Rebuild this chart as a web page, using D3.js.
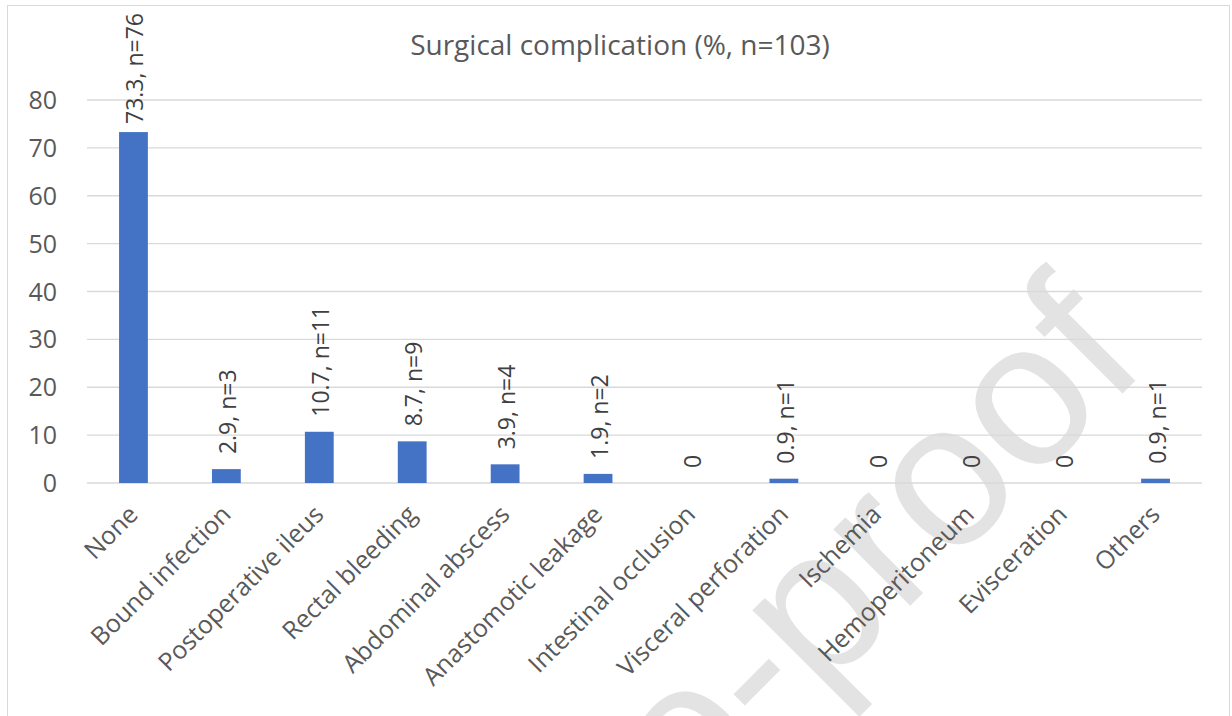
<!DOCTYPE html>
<html>
<head>
<meta charset="utf-8">
<script src="https://cdn.jsdelivr.net/npm/d3@7"></script>
<style>
  html, body { margin: 0; padding: 0; background: #fff; }
  svg { display: block; font-family: "Open Sans", "Noto Sans", sans-serif; }
</style>
</head>
<body>
<svg id="chart" width="1232" height="716"></svg>
<script>
const categories = [
  "None", "Bound infection", "Postoperative ileus", "Rectal bleeding",
  "Abdominal abscess", "Anastomotic leakage", "Intestinal occlusion",
  "Visceral perforation", "Ischemia", "Hemoperitoneum", "Evisceration", "Others"
];
const percents = [73.3, 2.9, 10.7, 8.7, 3.9, 1.9, 0, 0.9, 0, 0, 0, 0.9];
const counts = [76, 3, 11, 9, 4, 2, 0, 1, 0, 0, 0, 1];
const yTicks = [0, 10, 20, 30, 40, 50, 60, 70, 80];
const title = "Surgical complication (%, n=103)";
const watermark = "Journal Pre-proof";

const svg = d3.select("#chart");
const plot = { left: 87, right: 1202, top: 100, bottom: 483 };

// watermark, sits behind the chart
svg.append("text")
  .attr("transform", "translate(1150,366) rotate(-45)")
  .attr("text-anchor", "end")
  .attr("font-family", "'Liberation Sans', Arial, sans-serif")
  .attr("font-size", 205)
  .attr("fill", "#e3e3e3")
  .text(watermark);

// chart border (bottom edge runs off the picture)
svg.append("rect")
  .attr("x", 7.5).attr("y", 5.5)
  .attr("width", 1222).attr("height", 740)
  .attr("fill", "none")
  .attr("stroke", "#d9d9d9")
  .attr("stroke-width", 1);

const x = d3.scaleBand()
  .domain(categories)
  .range([plot.left, plot.right])
  .paddingInner(0.69)
  .paddingOuter(0.345);

const y = d3.scaleLinear()
  .domain([0, 80])
  .range([plot.bottom, plot.top]);

const cx = d => x(d) + x.bandwidth() / 2;

// gridlines
svg.append("g")
  .selectAll("line")
  .data(yTicks)
  .join("line")
  .attr("x1", plot.left).attr("x2", plot.right)
  .attr("y1", d => y(d)).attr("y2", d => y(d))
  .attr("stroke", "#d9d9d9")
  .attr("stroke-width", 1.3);

// y tick labels
svg.append("g")
  .selectAll("text")
  .data(yTicks)
  .join("text")
  .attr("x", 57)
  .attr("y", d => y(d))
  .attr("dy", "0.36em")
  .attr("text-anchor", "end")
  .attr("font-size", 25)
  .attr("fill", "#595959")
  .text(d => d);

// bars
svg.append("g")
  .selectAll("rect")
  .data(categories)
  .join("rect")
  .attr("x", d => x(d))
  .attr("width", x.bandwidth())
  .attr("y", (d, i) => y(percents[i]))
  .attr("height", (d, i) => y(0) - y(percents[i]))
  .attr("fill", "#4472C4");

// data labels, pushed down when they would run past the chart top
const labels = svg.append("g")
  .selectAll("text")
  .data(categories)
  .join("text")
  .attr("text-anchor", "start")
  .attr("font-size", 23)
  .attr("fill", "#404040")
  .text((d, i) => percents[i] === 0 ? "0" : `${percents[i]}, n=${counts[i]}`);

labels.attr("transform", function (d, i) {
  const len = this.getComputedTextLength();
  let start = y(percents[i]) - 15;
  if (start - len < 13) start = 13 + len;
  return `translate(${cx(d) + 10},${start}) rotate(-90)`;
});

// x labels
svg.append("g")
  .selectAll("text")
  .data(categories)
  .join("text")
  .attr("transform", d => `translate(${cx(d) + 6},${plot.bottom + 33}) rotate(-45)`)
  .attr("text-anchor", "end")
  .attr("font-size", 25)
  .attr("fill", "#595959")
  .text(d => d);

// title
svg.append("text")
  .attr("x", 620).attr("y", 55)
  .attr("text-anchor", "middle")
  .attr("font-size", 28)
  .attr("fill", "#595959")
  .text(title);
</script>
</body>
</html>
